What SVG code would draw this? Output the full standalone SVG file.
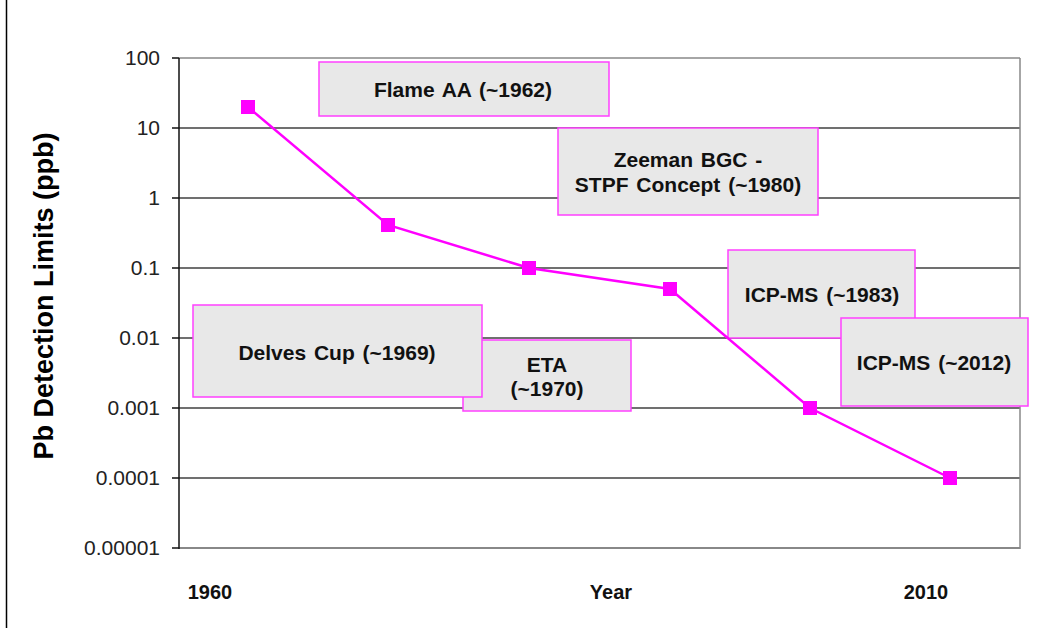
<svg xmlns="http://www.w3.org/2000/svg" width="1046" height="628" viewBox="0 0 1046 628">
<style>
.grid{stroke:#404040;stroke-width:1.5}
.tick{font-family:"Liberation Sans",Arial,sans-serif;font-size:21px;fill:#222;text-anchor:end}
.xl{font-family:"Liberation Sans",Arial,sans-serif;font-size:20px;font-weight:bold;fill:#111;text-anchor:middle}
.box rect{fill:#E8E8E8;stroke:#FF40FF;stroke-width:1.5}
.box text{font-family:"Liberation Sans",Arial,sans-serif;font-size:21px;font-weight:bold;fill:#111;text-anchor:middle;word-spacing:2px}
.mk{fill:#FF00FF}
</style>
<rect width="1046" height="628" fill="#fff"/>
<line x1="6.5" y1="0" x2="6.5" y2="628" stroke="#000" stroke-width="1.5"/>
<g id="grid">
<line x1="179" y1="58" x2="1020" y2="58" stroke="#888" stroke-width="1.5"/>
<line class="grid" x1="179" y1="128" x2="1020" y2="128"/>
<line class="grid" x1="179" y1="198" x2="1020" y2="198"/>
<line class="grid" x1="179" y1="268" x2="1020" y2="268"/>
<line class="grid" x1="179" y1="338" x2="1020" y2="338"/>
<line class="grid" x1="179" y1="408" x2="1020" y2="408"/>
<line class="grid" x1="179" y1="478" x2="1020" y2="478"/>
<line x1="179" y1="548" x2="1020" y2="548" stroke="#888" stroke-width="2"/>
<line x1="1020" y1="58" x2="1020" y2="549" stroke="#888" stroke-width="1.5"/>
<line x1="179" y1="58" x2="179" y2="549" stroke="#111" stroke-width="1.5"/>
<g stroke="#111" stroke-width="1.5">
<line x1="172" y1="58" x2="179" y2="58"/><line x1="172" y1="128" x2="179" y2="128"/>
<line x1="172" y1="198" x2="179" y2="198"/><line x1="172" y1="268" x2="179" y2="268"/>
<line x1="172" y1="338" x2="179" y2="338"/><line x1="172" y1="408" x2="179" y2="408"/>
<line x1="172" y1="478" x2="179" y2="478"/><line x1="172" y1="548" x2="179" y2="548"/>
</g>
</g>
<g id="yticks">
<text class="tick" x="160" y="65">100</text>
<text class="tick" x="160" y="135">10</text>
<text class="tick" x="160" y="205">1</text>
<text class="tick" x="160" y="275">0.1</text>
<text class="tick" x="160" y="345">0.01</text>
<text class="tick" x="160" y="415">0.001</text>
<text class="tick" x="160" y="485">0.0001</text>
<text class="tick" x="160" y="555">0.00001</text>
</g>
<text x="53" y="296" transform="rotate(-90 53 296)" font-family="Liberation Sans,Arial,sans-serif" font-size="27" font-weight="bold" fill="#000" text-anchor="middle">Pb Detection Limits (ppb)</text>
<g id="xlabels">
<text class="xl" x="210" y="599">1960</text>
<text class="xl" x="611" y="599">Year</text>
<text class="xl" x="926" y="599">2010</text>
</g>
<g id="box-flame" class="box"><rect x="319" y="62" width="290" height="54"/><text x="463" y="97">Flame AA (~1962)</text></g>
<g id="box-zeeman" class="box"><rect x="558" y="128" width="260" height="87"/><text x="688" y="167">Zeeman BGC -</text><text x="688" y="192">STPF Concept (~1980)</text></g>
<g id="box-eta" class="box"><rect x="463" y="340" width="168" height="71"/><text x="547" y="372">ETA</text><text x="547" y="396">(~1970)</text></g>
<g id="box-delves" class="box"><rect x="193" y="305" width="289" height="92"/><text x="337" y="360">Delves Cup (~1969)</text></g>
<g id="box-icp1983" class="box"><rect x="728" y="250" width="187" height="88"/><text x="822" y="302">ICP-MS (~1983)</text></g>
<g id="box-icp2012" class="box"><rect x="841" y="318" width="187" height="88"/><text x="934" y="370">ICP-MS (~2012)</text></g>
<g id="series">
<polyline points="248,107 388,225 529,268 670,289 810,408 950,478" fill="none" stroke="#FF00FF" stroke-width="2.5"/>
<rect class="mk" x="241" y="100" width="14" height="14"/>
<rect class="mk" x="381" y="218" width="14" height="14"/>
<rect class="mk" x="522" y="261" width="14" height="14"/>
<rect class="mk" x="663" y="282" width="14" height="14"/>
<rect class="mk" x="803" y="401" width="14" height="14"/>
<rect class="mk" x="943" y="471" width="14" height="14"/>
</g>
</svg>
